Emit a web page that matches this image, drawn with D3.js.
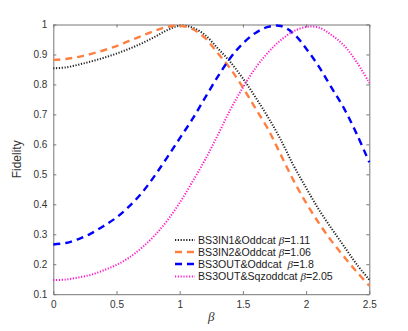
<!DOCTYPE html>
<html><head><meta charset="utf-8">
<script src="https://cdn.jsdelivr.net/npm/d3@7"></script>
<style>
html,body{margin:0;padding:0;background:#fff;}
svg{display:block;font-family:"Liberation Sans",Arial,sans-serif;}
</style></head>
<body><svg id="c" width="408" height="331"></svg>
<script>
const betas = [0,0.1,0.2,0.3,0.4,0.5,0.6,0.7,0.8,0.9,1.0,1.1,1.2,1.3,1.4,1.5,1.6,1.7,1.8,1.9,2.0,2.1,2.2,2.3,2.4,2.5];
const in1 = [0.854,0.857,0.866,0.877,0.889,0.903,0.919,0.937,0.958,0.981,0.996,0.99,0.965,0.921,0.875,0.82,0.757,0.69,0.615,0.53,0.455,0.383,0.32,0.26,0.2,0.148];
const in2 = [0.882,0.885,0.892,0.902,0.914,0.928,0.945,0.962,0.979,0.992,0.996,0.985,0.955,0.905,0.853,0.79,0.72,0.65,0.565,0.48,0.405,0.338,0.278,0.225,0.175,0.128];
const out = [0.266,0.271,0.284,0.303,0.328,0.356,0.393,0.438,0.494,0.556,0.62,0.684,0.755,0.825,0.888,0.937,0.972,0.992,0.995,0.97,0.92,0.86,0.79,0.72,0.635,0.54];
const sqz = [0.147,0.149,0.156,0.165,0.18,0.198,0.222,0.255,0.295,0.345,0.405,0.475,0.548,0.63,0.715,0.79,0.855,0.907,0.948,0.977,0.992,0.99,0.965,0.93,0.875,0.805];
const seriesNames = ["BS3IN1&Oddcat ","BS3IN2&Oddcat ","BS3OUT&Oddcat  ","BS3OUT&Sqzoddcat "];
const seriesBetas = ["=1.11","=1.06","=1.8","=2.05"];
const xTicks = [0,0.5,1,1.5,2,2.5];
const xTickLabels = ["0","0.5","1","1.5","2","2.5"];
const yTicks = [0.1,0.2,0.3,0.4,0.5,0.6,0.7,0.8,0.9,1];
const yTickLabels = ["0.1","0.2","0.3","0.4","0.5","0.6","0.7","0.8","0.9","1"];

const styles = [
  {color:"#222222", width:2, dash:"1.2,1.6"},
  {color:"#ff7f40", width:2.4, dash:"7,5"},
  {color:"#0000ff", width:2.4, dash:"7,5"},
  {color:"#ff1acc", width:2, dash:"1.2,1.6"}
];
const data = [in1,in2,out,sqz];

const svg = d3.select("#c");
const L=53.3, R=369.3, T=24.5, B=294.2;
const x = d3.scaleLinear().domain([0,2.5]).range([L,R]);
const y = d3.scaleLinear().domain([0.1,1]).range([B,T]);
const axisColor="#777";

// axes
const gx = svg.append("g").attr("transform",`translate(0,${B})`)
  .call(d3.axisBottom(x).tickValues(xTicks).tickFormat((d,i)=>xTickLabels[i]).tickSizeInner(-3).tickSizeOuter(0).tickPadding(7));
const gxt = svg.append("g").attr("transform",`translate(0,${T})`)
  .call(d3.axisTop(x).tickValues(xTicks).tickFormat("").tickSizeInner(-3).tickSizeOuter(0));
const gy = svg.append("g").attr("transform",`translate(${L},0)`)
  .call(d3.axisLeft(y).tickValues(yTicks).tickFormat((d,i)=>yTickLabels[i]).tickSizeInner(-3).tickSizeOuter(0).tickPadding(6));
const gyr = svg.append("g").attr("transform",`translate(${R},0)`)
  .call(d3.axisRight(y).tickValues(yTicks).tickFormat("").tickSizeInner(-3).tickSizeOuter(0));
[gx,gxt,gy,gyr].forEach(g=>{
  g.selectAll("path.domain").attr("stroke",axisColor).attr("stroke-width",1);
  g.selectAll("line").attr("stroke",axisColor);
  g.selectAll("text").attr("fill","#333").style("font-size","10px").style("font-family","'Liberation Sans',Arial,sans-serif");
});

// lines
const line = d3.line().x((d,i)=>x(betas[i])).y(d=>y(d)).curve(d3.curveCatmullRom.alpha(0.5));
data.forEach((arr,k)=>{
  svg.append("path").datum(arr).attr("d",line).attr("fill","none")
    .attr("stroke",styles[k].color).attr("stroke-width",styles[k].width)
    .attr("stroke-dasharray",styles[k].dash);
});

// labels
svg.append("text").attr("transform",`translate(21,${(T+B)/2}) rotate(-90)`)
  .attr("text-anchor","middle").attr("fill","#333").style("font-size","12px").text("Fidelity");
svg.append("text").attr("x",(L+R)/2).attr("y",321).attr("text-anchor","middle")
  .attr("fill","#333").style("font-size","13px").style("font-style","italic")
  .style("font-family","'Liberation Serif','Times New Roman',serif").text("β");

// legend
const lg = svg.append("g");
const rowY = [240,252,264,276.5];
seriesNames.forEach((n,k)=>{
  lg.append("line").attr("x1",175).attr("x2",195).attr("y1",rowY[k]).attr("y2",rowY[k])
    .attr("stroke",styles[k].color).attr("stroke-width",styles[k].width).attr("stroke-dasharray",styles[k].dash);
  const t = lg.append("text").attr("x",198).attr("y",rowY[k]+3.7).attr("fill","#222").style("font-size","10.6px")
    .attr("xml:space","preserve");
  t.append("tspan").text(n);
  t.append("tspan").style("font-style","italic").style("font-family","'Liberation Serif','Times New Roman',serif").style("font-size","11px").text("β");
  t.append("tspan").text(seriesBetas[k]);
});
</script></body></html>
